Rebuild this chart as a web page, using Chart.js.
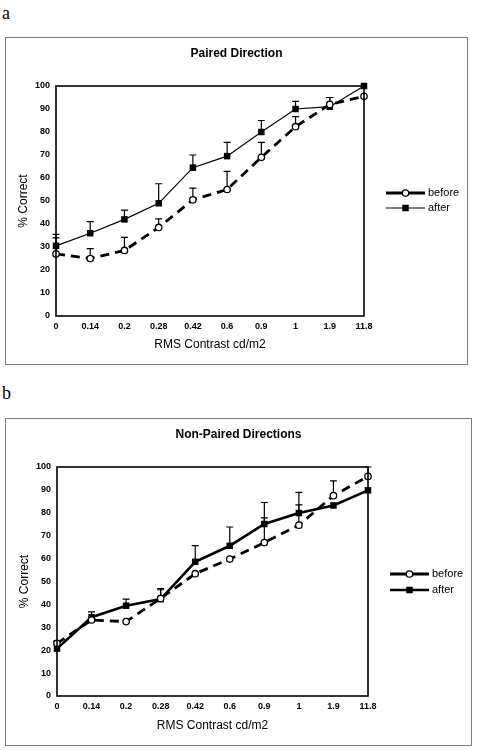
<!DOCTYPE html>
<html>
<head>
<meta charset="utf-8">
<script src="https://cdn.jsdelivr.net/npm/chart.js@4/dist/chart.umd.min.js"></script>
<style>
    body { margin: 0; background: #fff; width: 478px; height: 750px; position: relative; overflow: hidden; }
    .tag { position: absolute; left: 2px; font: 18px "Liberation Serif", "DejaVu Serif", serif; color: #000; }
    .panel { position: absolute; border: 1px solid #808080; background: #fff; }
    .panel canvas { position: absolute; left: 0; top: 0; }
</style>
</head>
<body>
<div class="tag" style="top:3px">a</div>
<div class="panel" style="left:5px; top:37px; width:461px; height:326px;">
    <canvas id="paired-chart" width="461" height="326"></canvas>
</div>
<div class="tag" style="top:383px">b</div>
<div class="panel" style="left:5px; top:418px; width:465px; height:326px;">
    <canvas id="nonpaired-chart" width="465" height="326"></canvas>
</div>
<script>
// x categories (RMS contrast)
const contrastLabels = ['0', '0.14', '0.2', '0.28', '0.42', '0.6', '0.9', '1', '1.9', '11.8'];

// a: Paired Direction
const pairedBefore = [27, 25, 28.5, 38.5, 50.5, 55, 69, 82.3, 92, 95.5];
const pairedBeforeErr = [7, 4.3, 5.7, 3.7, 5.1, 7.9, 6.5, 4.4, 3, 0];
const pairedAfter = [30.5, 36, 42, 49, 64.5, 69.5, 80, 90, 91, 100];
const pairedAfterErr = [5, 5, 4, 8.5, 5.5, 6, 5, 3.3, 4, 0];

// b: Non-Paired Directions
const nonPairedBefore = [23, 33.2, 32.5, 42.6, 53.4, 59.8, 67, 74.6, 87.5, 95.9];
const nonPairedBeforeErr = [1, 0, 0, 3.8, 0, 0, 10.8, 8.9, 6.4, 4.1];
const nonPairedAfter = [20.7, 34.4, 39.4, 42.3, 58.6, 65.6, 75.1, 79.9, 83.2, 89.8];
const nonPairedAfterErr = [3.3, 2.3, 2.9, 4.6, 7.1, 8.2, 9.4, 9, 0, 0];

const FONT = '"Liberation Sans", Arial, sans-serif';

// 上方误差线 (only the upper half, like the original)
const errorBarPlugin = {
    id: 'errorBars',
    beforeDatasetsDraw(chart) {
        const ctx = chart.ctx;
        const yScale = chart.scales.y;
        ctx.save();
        ctx.strokeStyle = '#000';
        ctx.lineWidth = 1.2;
        chart.data.datasets.forEach((ds, i) => {
            const meta = chart.getDatasetMeta(i);
            meta.data.forEach((pt, j) => {
                const err = ds.errors[j];
                if (!err) return;
                const top = yScale.getPixelForValue(ds.data[j] + err);
                ctx.beginPath();
                ctx.moveTo(pt.x, pt.y);
                ctx.lineTo(pt.x, top);
                ctx.moveTo(pt.x - 3.5, top);
                ctx.lineTo(pt.x + 3.5, top);
                ctx.stroke();
            });
        });
        ctx.restore();
    }
};

// plot frame + title + legend
const decorPlugin = {
    id: 'decor',
    afterDraw(chart, args, opts) {
        const ctx = chart.ctx;
        const area = chart.chartArea;
        ctx.save();
        ctx.strokeStyle = '#000';
        ctx.lineWidth = 1.6;
        ctx.strokeRect(area.left, area.top, area.right - area.left, area.bottom - area.top);

        ctx.fillStyle = '#000';
        ctx.font = 'bold 12px ' + FONT;
        ctx.textAlign = 'center';
        ctx.textBaseline = 'middle';
        ctx.fillText(opts.title, chart.width / 2, 16);

        // legend
        ctx.font = '11px ' + FONT;
        ctx.textAlign = 'left';
        chart.data.datasets.forEach((ds, i) => {
            const y = opts.legendY + i * opts.legendGap;
            ctx.strokeStyle = '#000';
            ctx.beginPath();
            ctx.lineWidth = ds.borderWidth;
            ctx.moveTo(opts.legendX, y);
            ctx.lineTo(opts.legendX + opts.legendLen, y);
            ctx.stroke();
            const mx = opts.legendX + opts.legendLen / 2;
            ctx.fillStyle = ds.pointBackgroundColor;
            ctx.lineWidth = ds.pointBorderWidth;
            ctx.beginPath();
            if (ds.pointStyle === 'rect') {
                const s = ds.pointRadius * Math.SQRT1_2;
                ctx.rect(mx - s, y - s, 2 * s, 2 * s);
                ctx.fill();
            } else {
                ctx.arc(mx, y, ds.pointRadius, 0, Math.PI * 2);
                ctx.fill();
                ctx.stroke();
            }
            ctx.fillStyle = '#000';
            ctx.fillText(ds.label, opts.legendX + opts.legendLen + 3, y);
        });
        ctx.restore();
    }
};

function makeChart(canvasId, cfg) {
    return new Chart(document.getElementById(canvasId), {
        type: 'line',
        data: {
            labels: contrastLabels,
            datasets: [
                {
                    label: 'before',
                    data: cfg.before,
                    errors: cfg.beforeErr,
                    borderColor: '#000',
                    borderWidth: 2.8,
                    borderDash: [9, 6],
                    pointStyle: 'circle',
                    pointRadius: 3.2,
                    pointBackgroundColor: '#fff',
                    pointBorderColor: '#000',
                    pointBorderWidth: 1.3,
                    tension: 0,
                    clip: false
                },
                {
                    label: 'after',
                    data: cfg.after,
                    errors: cfg.afterErr,
                    borderColor: '#000',
                    borderWidth: cfg.afterWidth,
                    pointStyle: 'rect',
                    pointRadius: 4.6,
                    pointBackgroundColor: '#000',
                    pointBorderColor: '#000',
                    pointBorderWidth: 0,
                    tension: 0,
                    clip: false
                }
            ]
        },
        options: {
            responsive: false,
            animation: false,
            layout: { padding: { left: cfg.padLeft, top: 48, right: 103, bottom: 0 } },
            plugins: {
                legend: { display: false },
                title: { display: false },
                tooltip: { enabled: false },
                decor: {
                    title: cfg.title,
                    legendX: cfg.legendX,
                    legendY: 155,
                    legendGap: cfg.legendGap,
                    legendLen: 39
                }
            },
            scales: {
                x: {
                    type: 'category',
                    offset: false,
                    grid: { display: false, drawTicks: false },
                    border: { display: false },
                    ticks: {
                        color: '#000',
                        font: { family: FONT, size: 9, weight: 'bold' },
                        padding: 5,
                        maxRotation: 0,
                        autoSkip: false
                    },
                    title: {
                        display: true,
                        text: 'RMS Contrast cd/m2',
                        color: '#000',
                        font: { family: FONT, size: 12 },
                        padding: { top: 0, bottom: 12 }
                    },
                    afterFit: s => { s.height = cfg.xHeight; }
                },
                y: {
                    min: 0,
                    max: 100,
                    grid: { display: false, drawTicks: false },
                    border: { display: false },
                    ticks: {
                        stepSize: 10,
                        color: '#000',
                        font: { family: FONT, size: 9, weight: 'bold' },
                        padding: 6
                    },
                    title: {
                        display: true,
                        text: '% Correct',
                        color: '#000',
                        font: { family: FONT, size: 12 },
                        padding: { top: 4, bottom: 0 }
                    },
                    afterFit: s => { s.width = 44; }
                }
            }
        },
        plugins: [errorBarPlugin, decorPlugin]
    });
}

makeChart('paired-chart', {
    title: 'Paired Direction',
    before: pairedBefore, beforeErr: pairedBeforeErr,
    after: pairedAfter, afterErr: pairedAfterErr,
    afterWidth: 1.2,
    padLeft: 6,
    xHeight: 48,
    legendX: 380,
    legendGap: 15
});

makeChart('nonpaired-chart', {
    title: 'Non-Paired Directions',
    before: nonPairedBefore, beforeErr: nonPairedBeforeErr,
    after: nonPairedAfter, afterErr: nonPairedAfterErr,
    afterWidth: 2.6,
    padLeft: 7,
    xHeight: 49,
    legendX: 384,
    legendGap: 16
});
</script>
</body>
</html>
